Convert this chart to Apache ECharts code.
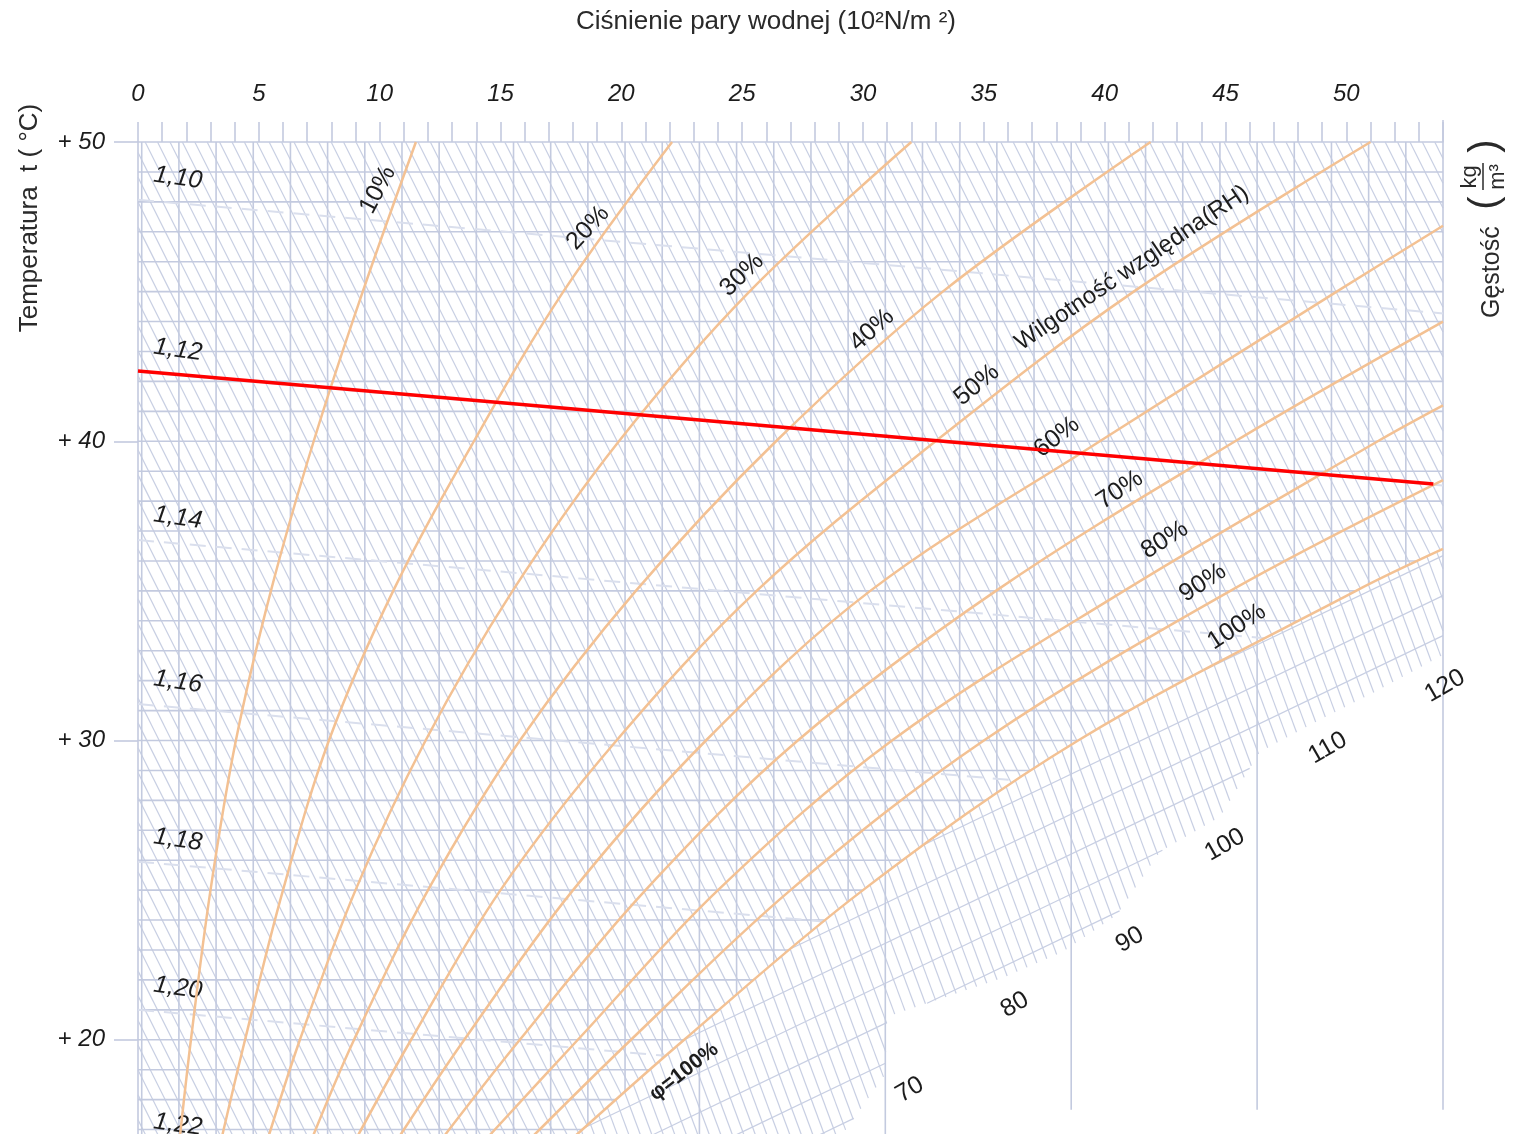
<!DOCTYPE html>
<html>
<head>
<meta charset="utf-8">
<script src="https://cdn.jsdelivr.net/npm/echarts/dist/echarts.min.js"></script>
<style>
  html, body { margin: 0; padding: 0; overflow: hidden; background: #ffffff; }
  #chart { width: 1525px; height: 1400px; }
</style>
</head>
<body>
<div id="chart"></div>
<script>
// ---- axes -------------------------------------------------------------
const pressureMax = 54;              // 10^2 N/m^2
const pressureLabelStep = 5;
const temperatureMin = 10;           // °C (lower part runs below the page)
const temperatureMax = 50;
const temperatureStep = 10;
const visibleBottomT = 16.5;

// ---- relative humidity curves: [vapour pressure, temperature] ---------
const rhNames = ['10%', '20%', '30%', '40%', '50%', '60%', '70%', '80%', '90%', '100%'];
const rh10  = [[1.70,16.5],[2.19,20],[3.0,25],[4.05,30],[5.5,35],[7.27,40],[9.3,45],[11.5,50]];
const rh20  = [[3.40,16.5],[4.43,20],[6.0,25],[7.9,30],[10.56,35],[13.9,40],[17.6,45],[22.1,50]];
const rh30  = [[5.3,16.5],[6.7,20],[9.0,25],[11.9,30],[15.5,35],[19.9,40],[25.3,45],[32.0,50]];
const rh40  = [[7.1,16.5],[8.94,20],[12.0,25],[15.8,30],[20.6,35],[26.4,40],[33.3,45],[41.9,50]];
const rh50  = [[8.9,16.5],[11.3,20],[15.0,25],[19.8,30],[25.6,35],[33.0,40],[41.2,45],[51.0,50]];
const rh60  = [[10.6,16.5],[13.5,20],[18.0,25],[23.5,30],[30.3,35],[39.8,40],[49.6,45],[54,47.2]];
const rh70  = [[12.4,16.5],[15.8,20],[21.0,25],[27.3,30],[35.5,35],[45.4,40],[54,44.0]];
const rh80  = [[14.2,16.5],[18.2,20],[24.0,25],[31.2,30],[40.8,35],[51.3,40],[54,41.2]];
const rh90  = [[16.0,16.5],[20.4,20],[27.0,25],[35.0,30],[45.2,35],[54,38.7]];
const rh100 = [[17.7,16.5],[22.6,20],[30.0,25],[38.9,30],[50.4,35],[54,36.4]];
const rhCurves = [rh10, rh20, rh30, rh40, rh50, rh60, rh70, rh80, rh90, rh100];
const curveSmooth = 0.35;

// label anchors of the humidity curves [pressure, temperature] and their slant (deg)
const rhLabelSpots  = [[9.93,48.40],[18.62,47.13],[24.99,45.56],[30.37,43.72],[34.71,41.88],
                       [38.02,40.14],[40.63,38.37],[42.49,36.70],[44.06,35.27],[45.47,33.80]];
const rhLabelAngles = [62, 47, 44, 42, 40, 38, 34, 32, 33, 33];
const rhTitle = 'Wilgotność względna(RH)';
const rhTitleSpot = [41.13, 45.79];
const saturationTitle = 'φ=100%';
const saturationSpot = [22.59, 18.93];

// ---- air density lines (kg/m^3): temperature where each meets p=0 and p=54
const densityNames   = ['1,10', '1,12', '1,14', '1,16', '1,18', '1,20', '1,22'];
const densityLeftT   = [48.07, 42.32, 36.70, 31.22, 25.95, 21.00, 16.40];
const densityRightT  = [44.27, 38.52, 32.90, 27.42, 22.15, 17.20, 12.60];
const densityLabelT  = [48.80, 43.05, 37.44, 31.96, 26.68, 21.73, 17.16];
const densityLabelP  = 1.65;

// highlighted density line
const redLine = [[0, 42.35], [53.6, 38.57]];

// ---- fog (supersaturation) scale in the lower right --------------------
const fogNames = ['70', '80', '90', '100', '110', '120'];
const fogSpots = [[31.94,18.33],[36.28,21.17],[41.04,23.34],[44.97,26.51],[49.23,29.75],[54.08,31.82]];
const fogEdge  = [[28.84,16.49],[30.91,18.83],[30.99,20.77],[35.79,22.07],[38.27,22.94],[40.50,24.17],
                  [42.28,26.28],[44.77,27.45],[46.42,29.62],[48.90,30.69],[51.10,31.59],[54.00,32.86]];
const fogStubEndT = 17.66;

// vertical grid of the chart: every 20/13 units counted back from the right edge
const verticalCount = 35;
const verticalStep = 20 / 13;

const FONT = '"Liberation Sans", Arial, Helvetica, sans-serif';
const GRID = '#c3cadf';
const HATCH = '#c8cfe3';
const INK = '#1c1c1c';

// ---- geometry helpers -------------------------------------------------
function segT(a, b, c, d) {
  const rx = b[0] - a[0], ry = b[1] - a[1], sx = d[0] - c[0], sy = d[1] - c[1];
  const den = rx * sy - ry * sx;
  if (Math.abs(den) < 1e-12) return null;
  const qx = c[0] - a[0], qy = c[1] - a[1];
  const t = (qx * sy - qy * sx) / den;
  const u = (qx * ry - qy * rx) / den;
  return (t >= 0 && t <= 1 && u >= 0 && u <= 1) ? t : null;
}
function inside(p, poly) {
  let c = false;
  for (let i = 0, j = poly.length - 1; i < poly.length; j = i++) {
    const a = poly[i], b = poly[j];
    if ((a[1] > p[1]) !== (b[1] > p[1]) &&
        p[0] < (b[0] - a[0]) * (p[1] - a[1]) / (b[1] - a[1]) + a[0]) c = !c;
  }
  return c;
}
function clip(a, b, poly) {
  const ts = [0, 1];
  for (let i = 0; i < poly.length; i++) {
    const t = segT(a, b, poly[i], poly[(i + 1) % poly.length]);
    if (t !== null) ts.push(t);
  }
  ts.sort((x, y) => x - y);
  const parts = [];
  for (let i = 0; i < ts.length - 1; i++) {
    const t0 = ts[i], t1 = ts[i + 1];
    if (t1 - t0 < 1e-7) continue;
    const tm = (t0 + t1) / 2;
    const m = [a[0] + (b[0] - a[0]) * tm, a[1] + (b[1] - a[1]) * tm];
    if (!inside(m, poly)) continue;
    if (parts.length && Math.abs(parts[parts.length - 1][1] - t0) < 1e-7) parts[parts.length - 1][1] = t1;
    else parts.push([t0, t1]);
  }
  return parts.map(([t0, t1]) => [
    [a[0] + (b[0] - a[0]) * t0, a[1] + (b[1] - a[1]) * t0],
    [a[0] + (b[0] - a[0]) * t1, a[1] + (b[1] - a[1]) * t1]
  ]);
}
// the same bezier construction the line series uses for `smooth`, sampled densely
function smoothed(pts, s) {
  const n = pts.length, after = [], before = [];
  for (let i = 0; i < n; i++) {
    const p = pts[i];
    if (i === 0 || i === n - 1) { after[i] = p; before[i] = p; continue; }
    const a = pts[i - 1], b = pts[i + 1];
    const vx = b[0] - a[0], vy = b[1] - a[1];
    const l0 = Math.hypot(p[0] - a[0], p[1] - a[1]), l1 = Math.hypot(b[0] - p[0], b[1] - p[1]);
    const r = l1 / (l0 + l1);
    const cl = (v, lo, hi) => Math.min(Math.max(v, Math.min(lo, hi)), Math.max(lo, hi));
    after[i]  = [cl(p[0] + vx * s * r, p[0], b[0]), cl(p[1] + vy * s * r, p[1], b[1])];
    before[i] = [cl(p[0] - vx * s * (1 - r), p[0], a[0]), cl(p[1] - vy * s * (1 - r), p[1], a[1])];
  }
  const out = [pts[0]];
  for (let i = 0; i < n - 1; i++) {
    const p0 = pts[i], c1 = after[i], c2 = before[i + 1], p1 = pts[i + 1];
    for (let k = 1; k <= 16; k++) {
      const t = k / 16, u = 1 - t;
      out.push([u*u*u*p0[0] + 3*u*u*t*c1[0] + 3*u*t*t*c2[0] + t*t*t*p1[0],
                u*u*u*p0[1] + 3*u*u*t*c1[1] + 3*u*t*t*c2[1] + t*t*t*p1[1]]);
    }
  }
  return out;
}
function seg(p, q, stroke, width, dash) {
  return { type: 'line', silent: true,
    shape: { x1: p[0], y1: p[1], x2: q[0], y2: q[1] },
    style: { stroke: stroke, lineWidth: width, lineDash: dash || null } };
}
function label(pt, text, deg, font) {
  return { type: 'text', silent: true, x: pt[0], y: pt[1], rotation: deg * Math.PI / 180,
    style: { text: text, font: font, fill: INK, align: 'center', verticalAlign: 'middle',
             textAlign: 'center', textVerticalAlign: 'middle' } };
}

// ---- background net, isolines and annotations -------------------------
function drawNet(params, api) {
  const cs = params.coordSys;
  const P = (p, t) => api.coord([p, t]);
  const left = cs.x, right = cs.x + cs.width, top = cs.y;
  const bottom = P(0, visibleBottomT)[1];
  const sat = smoothed(rh100.map(d => P(d[0], d[1])), curveSmooth);
  const edge = fogEdge.map(d => P(d[0], d[1]));
  const polyA = [[left, top], [right, top]].concat(sat.slice().reverse(), [[left, bottom]]);
  const polyB = sat.concat(edge.slice().reverse());
  const out = [];
  const add = (a, b, poly, stroke, w, dash) =>
    clip(a, b, poly).forEach(s => out.push(seg(s[0], s[1], stroke, w, dash)));

  // steep hatching, unsaturated field
  const hA = 0.5, dA = 12.4, H = bottom - top;
  for (let c = left - hA * H - dA; c < right + dA; c += dA)
    add([c, top], [c + hA * H, bottom], polyA, HATCH, 1.2);
  // steeper hatching below saturation
  const hB = 0.37, dB = 11.5;
  for (let c = left - hB * H; c < right + dB; c += dB)
    add([c, top], [c + hB * H, bottom], polyB, HATCH, 1.2);
  // rising fog lines
  const W = right - left;
  for (let c = top; c < bottom + 0.48 * W + 40; c += 40)
    add([left, c], [right, c - 0.48 * W], polyB, HATCH, 1.2);
  // temperature lines
  for (let t = Math.ceil(visibleBottomT); t < temperatureMax; t++)
    add(P(0, t), P(pressureMax, t), polyA, GRID, 1.6);
  // vertical lines
  const edgeFoot = edge[0][0];
  for (let k = 1; k <= verticalCount; k++) {
    const x = P(pressureMax - k * verticalStep, 0)[0];
    if (k % 5) add([x, top], [x, bottom], polyA, GRID, 1.6);
    else {
      const end = x > edgeFoot + 60 ? P(0, fogStubEndT)[1] : bottom;
      out.push(seg([x, top], [x, end], GRID, 1.6));
    }
  }
  out.push(seg([right, top - 22], [right, P(0, fogStubEndT)[1]], GRID, 1.6));
  // density isolines
  densityNames.forEach((n, i) =>
    add(P(0, densityLeftT[i]), P(pressureMax, densityRightT[i]), polyA, '#dadfed', 2, [16, 10]));

  // annotations
  const italic = 'italic 25px ' + FONT, plain = '25px ' + FONT;
  densityNames.forEach((n, i) => out.push(label(P(densityLabelP, densityLabelT[i]), n, -8, italic)));
  rhNames.forEach((n, i) => out.push(label(P(rhLabelSpots[i][0], rhLabelSpots[i][1]), n, rhLabelAngles[i], plain)));
  out.push(label(P(rhTitleSpot[0], rhTitleSpot[1]), rhTitle, 34, '24px ' + FONT));
  out.push(label(P(saturationSpot[0], saturationSpot[1]), saturationTitle, 38, 'bold 21px ' + FONT));
  fogNames.forEach((n, i) => out.push(label(P(fogSpots[i][0], fogSpots[i][1]), n, 30, plain)));
  return { type: 'group', children: out };
}

const centered = { align: 'center', verticalAlign: 'middle', textAlign: 'center', textVerticalAlign: 'middle' };
const chart = echarts.init(document.getElementById('chart'));
const option = {
  animation: false,
  backgroundColor: '#ffffff',
  grid: { left: 138, right: 82, top: 142, bottom: 61 },
  xAxis: {
    type: 'value', position: 'top', min: 0, max: pressureMax, interval: 1,
    axisLine: { show: true, lineStyle: { color: GRID, width: 1.6 } },
    axisTick: { show: true, length: 20, lineStyle: { color: GRID, width: 1.6 } },
    axisLabel: { margin: 36, fontSize: 24, fontStyle: 'italic', fontFamily: FONT, color: INK,
                 formatter: v => (v % pressureLabelStep === 0 ? String(v) : '') },
    splitLine: { show: false }
  },
  yAxis: {
    type: 'value', min: temperatureMin, max: temperatureMax, interval: temperatureStep,
    axisLine: { show: true, lineStyle: { color: GRID, width: 1.6 } },
    axisTick: { show: true, length: 24, lineStyle: { color: GRID, width: 1.6 } },
    axisLabel: { margin: 33, fontSize: 24, fontStyle: 'italic', fontFamily: FONT, color: INK,
                 formatter: v => '+ ' + v },
    splitLine: { show: false }
  },
  graphic: [
    { type: 'text', x: 766, y: 22, silent: true,
      style: Object.assign({ text: 'Ciśnienie pary wodnej (10²N/m ²)', font: '26px ' + FONT, fill: '#2a2a2a' }, centered) },
    { type: 'text', x: 30, y: 218, rotation: Math.PI / 2, silent: true,
      style: Object.assign({ text: 'Temperatura  t ( °C)', font: '26px ' + FONT, fill: '#2a2a2a' }, centered) },
    { type: 'group', x: 1492, y: 318, rotation: Math.PI / 2, silent: true, children: [
      { type: 'text', x: 0, y: 0, style: { text: 'Gęstość', font: '25px ' + FONT, fill: '#2a2a2a',
          align: 'left', verticalAlign: 'middle', textAlign: 'left', textVerticalAlign: 'middle' } },
      { type: 'text', x: 115, y: -6, style: Object.assign({ text: '(', font: '40px ' + FONT, fill: '#2a2a2a' }, centered) },
      { type: 'text', x: 141, y: -22, style: Object.assign({ text: 'kg', font: '22px ' + FONT, fill: '#2a2a2a' }, centered) },
      { type: 'line', shape: { x1: 128, y1: -9, x2: 155, y2: -9 }, style: { stroke: '#2a2a2a', lineWidth: 1.5 } },
      { type: 'text', x: 141, y: 6, style: Object.assign({ text: 'm³', font: '22px ' + FONT, fill: '#2a2a2a' }, centered) },
      { type: 'text', x: 172, y: -6, style: Object.assign({ text: ')', font: '40px ' + FONT, fill: '#2a2a2a' }, centered) }
    ] }
  ],
  series: [
    { type: 'custom', coordinateSystem: 'cartesian2d', data: [[0, 30]], z: 1, silent: true,
      renderItem: drawNet }
  ].concat(rhCurves.map((d, i) => ({
    type: 'line', name: rhNames[i], data: d, smooth: curveSmooth, symbol: 'none', silent: true, z: 3,
    lineStyle: { color: '#f3c193', width: 2.5 }
  }))).concat([{
    type: 'line', name: '1,12', data: redLine, symbol: 'none', silent: true, z: 4,
    lineStyle: { color: '#ff0000', width: 3.5 }
  }])
};
chart.setOption(option);
</script>
</body>
</html>
